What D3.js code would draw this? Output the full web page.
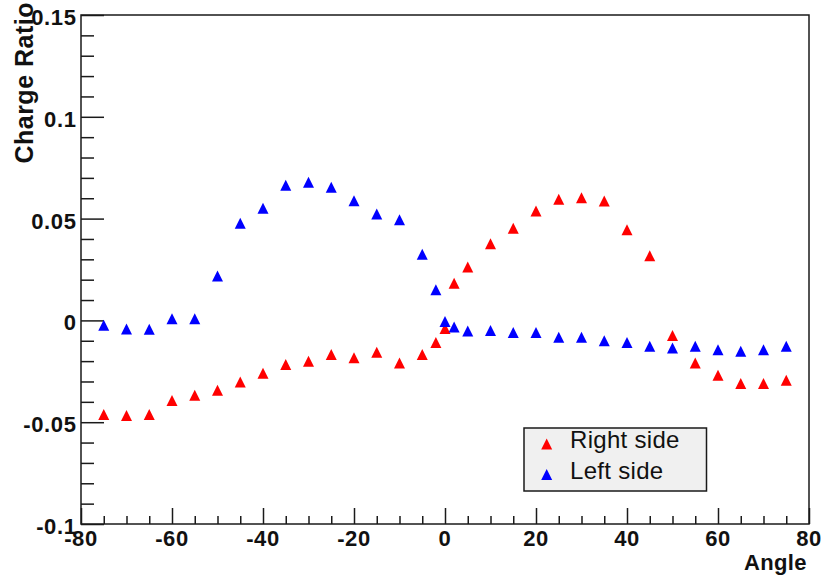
<!DOCTYPE html>
<html>
<head>
<meta charset="utf-8">
<script src="https://cdn.jsdelivr.net/npm/d3@7"></script>
<style>
  html, body { margin: 0; padding: 0; background: #fff; }
  svg { display: block; }
  text { font-family: "Liberation Sans", Arial, Helvetica, sans-serif; }
</style>
</head>
<body>
<svg id="chart" width="829" height="576"></svg>
<script>
// Angle (x) values shared by both series
const angles = [-75, -70, -65, -60, -55, -50, -45, -40, -35, -30, -25, -20, -15, -10, -5, -2, 0, 2,
                5, 10, 15, 20, 25, 30, 35, 40, 45, 50, 55, 60, 65, 70, 75];

// Charge ratio, right side
const rightSide = [-0.0462, -0.0467, -0.0462, -0.0394, -0.0368, -0.0343, -0.0302, -0.0260, -0.0217, -0.0201,
                   -0.0168, -0.0184, -0.0157, -0.0209, -0.0167, -0.0109, -0.0040, 0.0183,
                   0.0262, 0.0376, 0.0453, 0.0537, 0.0595, 0.0603, 0.0587, 0.0445, 0.0317, -0.0074,
                   -0.0209, -0.0270, -0.0310, -0.0310, -0.0294];

// Charge ratio, left side
const leftSide = [-0.0024, -0.0042, -0.0044, 0.0008, 0.0008, 0.0218, 0.0477, 0.0551, 0.0664, 0.0678,
                  0.0654, 0.0588, 0.0522, 0.0494, 0.0325, 0.0150, -0.0006, -0.0033,
                  -0.0052, -0.0050, -0.0059, -0.0059, -0.0083, -0.0083, -0.0100, -0.0108, -0.0127, -0.0135,
                  -0.0127, -0.0144, -0.0152, -0.0144, -0.0127];

// Axis tick values
const xMajorTicks = [-80, -60, -40, -20, 0, 20, 40, 60, 80];
const xTickLabels = ["-80", "-60", "-40", "-20", "0", "20", "40", "60", "80"];
const yMajorTicks = [-0.1, -0.05, 0, 0.05, 0.1, 0.15];
const yTickLabels = ["-0.1", "-0.05", "0", "0.05", "0.1", "0.15"];

const seriesNames = ["Right side", "Left side"];
const seriesColors = ["#ff0000", "#0000ff"];

const svg = d3.select("#chart");

const frame = { left: 81, right: 809, top: 15, bottom: 524 };

const x = d3.scaleLinear().domain([-80, 80]).range([frame.left, frame.right]);
const y = d3.scaleLinear().domain([-0.1, 0.15]).range([frame.bottom, frame.top]);

const axisColor = "#1a1a1a";
const axisWidth = 1.5;

// Bottom axis: majors every 20, minors every 5
const xMinor = d3.range(-80, 80.001, 5).filter(v => Math.abs(v % 20) > 1e-9);
const xAxisMajor = d3.axisBottom(x).tickValues(xMajorTicks).tickSize(16).tickSizeOuter(0).tickFormat("");
const xAxisMinor = d3.axisBottom(x).tickValues(xMinor).tickSize(8).tickSizeOuter(0).tickFormat("");

// Left axis: majors every 0.05, minors every 0.01
const yMinor = d3.range(-10, 15.001, 1).map(v => v / 100).filter(v => Math.abs(Math.round(v * 100) % 5) !== 0);
const yAxisMajor = d3.axisLeft(y).tickValues(yMajorTicks).tickSize(23).tickSizeOuter(0).tickFormat("");
const yAxisMinor = d3.axisLeft(y).tickValues(yMinor).tickSize(13).tickSizeOuter(0).tickFormat("");

function styleAxis(g) {
  g.select(".domain").remove();
  g.selectAll(".tick line").attr("stroke", axisColor).attr("stroke-width", axisWidth);
}

// Ticks point into the plot area, so the axes are mirrored inward
svg.append("g").attr("transform", `translate(0,${frame.bottom}) scale(1,-1)`).call(xAxisMajor).call(styleAxis);
svg.append("g").attr("transform", `translate(0,${frame.bottom}) scale(1,-1)`).call(xAxisMinor).call(styleAxis);
svg.append("g").attr("transform", `translate(${frame.left},0) scale(-1,1)`).call(yAxisMajor).call(styleAxis);
svg.append("g").attr("transform", `translate(${frame.left},0) scale(-1,1)`).call(yAxisMinor).call(styleAxis);

// Plot frame
svg.append("rect")
  .attr("x", frame.left).attr("y", frame.top)
  .attr("width", frame.right - frame.left).attr("height", frame.bottom - frame.top)
  .attr("fill", "none").attr("stroke", axisColor).attr("stroke-width", axisWidth);

// Tick labels
svg.append("g").selectAll("text").data(xMajorTicks).join("text")
  .attr("x", d => x(d)).attr("y", 546)
  .attr("text-anchor", "middle")
  .attr("font-size", 22).attr("font-weight", "bold").attr("letter-spacing", 0.6).attr("fill", "#111")
  .text((d, i) => xTickLabels[i]);

svg.append("g").selectAll("text").data(yMajorTicks).join("text")
  .attr("x", 76.5).attr("y", d => y(d) + 10)
  .attr("text-anchor", "end")
  .attr("font-size", 22).attr("font-weight", "bold").attr("letter-spacing", 0.6).attr("fill", "#111")
  .text((d, i) => yTickLabels[i]);

// Axis titles
svg.append("text")
  .attr("x", 807).attr("y", 570)
  .attr("text-anchor", "end")
  .attr("font-size", 22).attr("font-weight", "bold").attr("letter-spacing", 0.4).attr("fill", "#111")
  .text("Angle");

svg.append("text")
  .attr("transform", "translate(32.5,2) rotate(-90)")
  .attr("text-anchor", "end")
  .attr("font-size", 25).attr("font-weight", "bold").attr("letter-spacing", 0.5).attr("fill", "#111")
  .text("Charge Ratio");

// Upward triangle marker centred on its bounding box
const tri = "M-5.5,5.5L5.5,5.5L0,-5.5Z";

const series = [rightSide, leftSide];
series.forEach((vals, si) => {
  svg.append("g").selectAll("path")
    .data(angles.map((a, i) => ({ a, v: vals[i] })))
    .join("path")
    .attr("d", tri)
    .attr("transform", d => `translate(${x(d.a)},${y(d.v)})`)
    .attr("fill", seriesColors[si]);
});

// Legend
const legend = svg.append("g");
legend.append("rect")
  .attr("x", 524).attr("y", 428).attr("width", 182.5).attr("height", 63)
  .attr("fill", "#f0f0f0").attr("stroke", axisColor).attr("stroke-width", 1.5);

seriesNames.forEach((name, i) => {
  const cy = 444 + i * 30.5;
  legend.append("path").attr("d", tri)
    .attr("transform", `translate(546.7,${cy})`)
    .attr("fill", seriesColors[i]);
  legend.append("text")
    .attr("x", 570).attr("y", cy + 4.3)
    .attr("font-size", 24).attr("letter-spacing", 0.3).attr("fill", "#111")
    .text(name);
});
</script>
</body>
</html>
